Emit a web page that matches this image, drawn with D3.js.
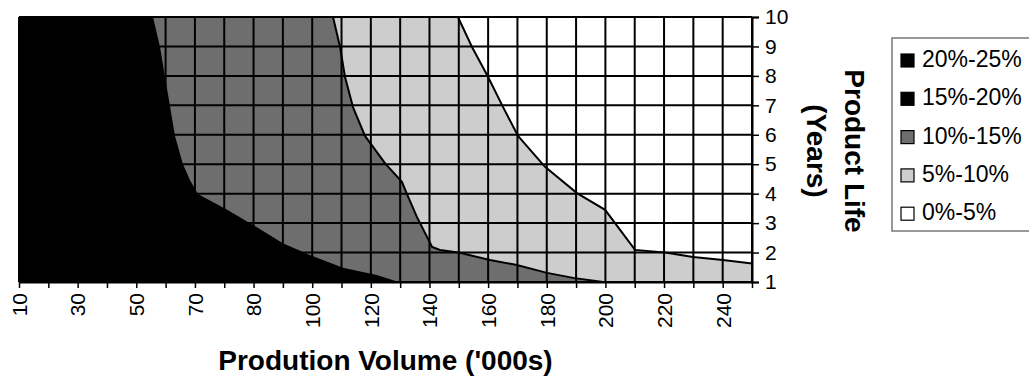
<!DOCTYPE html>
<html>
<head>
<meta charset="utf-8">
<script src="https://cdn.jsdelivr.net/npm/d3@7"></script>
<style>
  html, body { margin: 0; padding: 0; background: #fff; }
  svg { display: block; font-family: "Liberation Sans", Arial, sans-serif; }
</style>
</head>
<body>
<svg id="chart" width="1029" height="381"></svg>
<script>
// Production volume categories ('000s), one column per value
const volumes = [10, 20, 30, 40, 50, 60, 70, 75, 80, 90, 100, 110, 120, 130, 140,
                 150, 160, 170, 180, 190, 200, 210, 220, 230, 240, 250];
// Product life (years)
const lifeYears = [1, 2, 3, 4, 5, 6, 7, 8, 9, 10];

// Contour boundaries as [volume, life] points, top to bottom
const edge15 = [[55.7, 10], [58.1, 8.98], [59.8, 7.96], [61.5, 6.98], [63.2, 5.96],
                [65.9, 5.01], [68.3, 4.46], [70.5, 3.99], [75.5, 3.45], [79.9, 2.94],
                [90, 2.32], [99.2, 1.92], [110.5, 1.48], [122, 1.24], [129.5, 1]];
const edge10 = [[107.1, 10], [109.5, 8.98], [111.2, 7.96], [113.9, 6.94], [118, 5.96],
                [125, 5.01], [130.6, 4.4], [132.3, 3.99], [135.7, 3.21], [140.9, 2.19],
                [143.6, 2.09], [150.4, 1.99], [160.6, 1.75], [169.8, 1.58], [180.1, 1.31],
                [189, 1.14], [199.2, 1]];
const edge5  = [[149.7, 10], [154.5, 8.98], [160, 7.96], [165.1, 6.94], [170.2, 5.96],
                [179.4, 4.91], [190.3, 4.02], [199.9, 3.45], [210.1, 2.09], [221, 1.99],
                [229.9, 1.85], [240.1, 1.75], [250, 1.63]];

// Legend bands
const bandLabels = ["20%-25%", "15%-20%", "10%-15%", "5%-10%", "0%-5%"];
const bandColors = ["#000000", "#000000", "#6e6e6e", "#cdcdcd", "#ffffff"];

const svg = d3.select("#chart");
const plotL = 19, plotR = 752, plotT = 17, plotB = 282;

// Columns are evenly spaced categories; a piecewise scale maps volumes between them
const xBand = d3.scalePoint().domain(volumes).range([plotL, plotR]);
const x = d3.scaleLinear().domain(volumes).range(volumes.map(v => xBand(v)));
const y = d3.scaleLinear().domain([1, 10]).range([plotB, plotT]);

const vMin = volumes[0], vMax = volumes[volumes.length - 1];
const line = d3.line().x(d => x(d[0])).y(d => y(d[1]));

// Region polygons: everything left of a boundary, down to the axis
function regionLeftOf(edge) {
  const last = edge[edge.length - 1];
  const pts = [[vMin, 10]].concat(edge);
  if (last[1] > 1) pts.push([vMax, 1]);
  pts.push([vMin, 1]);
  return pts;
}

const plot = svg.append("g");
plot.append("rect")
  .attr("x", plotL).attr("y", plotT)
  .attr("width", plotR - plotL).attr("height", plotB - plotT)
  .attr("fill", "#ffffff");

plot.append("path").attr("d", line(regionLeftOf(edge5)) + "Z").attr("fill", bandColors[3]);
plot.append("path").attr("d", line(regionLeftOf(edge10)) + "Z").attr("fill", bandColors[2]);
plot.append("path").attr("d", line(regionLeftOf(edge15)) + "Z").attr("fill", bandColors[1]);

// Grid
const grid = svg.append("g").attr("stroke", "#000").attr("stroke-width", 2);
grid.selectAll("line.v").data(volumes).join("line")
  .attr("class", "v")
  .attr("x1", d => xBand(d)).attr("x2", d => xBand(d))
  .attr("y1", plotT).attr("y2", plotB);
grid.selectAll("line.h").data(lifeYears).join("line")
  .attr("class", "h")
  .attr("y1", d => y(d)).attr("y2", d => y(d))
  .attr("x1", plotL).attr("x2", plotR);

// Contour lines
[edge10, edge5].forEach(e => {
  svg.append("path").attr("d", line(e))
    .attr("fill", "none").attr("stroke", "#000").attr("stroke-width", 2);
});

// Bottom axis
const xAxis = svg.append("g")
  .attr("transform", `translate(0,${plotB})`)
  .call(d3.axisBottom(xBand).tickSize(6).tickSizeOuter(0)
    .tickFormat((d, i) => (i % 2 === 0 ? d : "")));
xAxis.select(".domain").attr("stroke", "#000").attr("stroke-width", 2);
xAxis.selectAll(".tick line").attr("stroke", "#000").attr("stroke-width", 1.5);
xAxis.selectAll(".tick text")
  .attr("font-size", 21)
  .attr("font-family", "Liberation Sans, Arial, sans-serif")
  .attr("fill", "#000")
  .attr("text-anchor", "end")
  .attr("transform", "translate(0,11) rotate(-90)")
  .attr("x", 0).attr("y", 0).attr("dy", "0.35em");

// Right axis
const yAxis = svg.append("g")
  .attr("transform", `translate(${plotR},0)`)
  .call(d3.axisRight(y).tickValues(lifeYears).tickSize(7).tickPadding(6).tickFormat(d3.format("d")));
yAxis.select(".domain").attr("stroke", "#000").attr("stroke-width", 2);
yAxis.selectAll(".tick line").attr("stroke", "#000").attr("stroke-width", 1.5);
yAxis.selectAll(".tick text")
  .attr("font-size", 21)
  .attr("font-family", "Liberation Sans, Arial, sans-serif")
  .attr("fill", "#000");

// Top border
svg.append("line").attr("x1", plotL).attr("x2", plotR).attr("y1", plotT).attr("y2", plotT)
  .attr("stroke", "#000").attr("stroke-width", 1.5);

// Axis titles
svg.append("text")
  .attr("x", (plotL + plotR) / 2).attr("y", 370)
  .attr("text-anchor", "middle")
  .attr("font-size", 28).attr("font-weight", "bold")
  .text("Prodution Volume ('000s)");

const yTitle = svg.append("g").attr("font-size", 28).attr("font-weight", "bold");
yTitle.append("text")
  .attr("transform", "translate(845,151) rotate(90)")
  .attr("text-anchor", "middle")
  .text("Product Life");
yTitle.append("text")
  .attr("transform", "translate(807,151) rotate(90)")
  .attr("text-anchor", "middle")
  .text("(Years)");

// Legend
const legend = svg.append("g");
legend.append("rect")
  .attr("x", 892).attr("y", 38).attr("width", 160).attr("height", 193)
  .attr("fill", "#fff").attr("stroke", "#777").attr("stroke-width", 1.5);
const rowY = i => 67 + i * 38.3;
legend.selectAll("rect.sw").data(bandLabels).join("rect")
  .attr("class", "sw")
  .attr("x", 901).attr("y", (d, i) => rowY(i) - 13)
  .attr("width", 13).attr("height", 13)
  .attr("fill", (d, i) => bandColors[i])
  .attr("stroke", "#000").attr("stroke-width", 1.2);
legend.selectAll("text.lbl").data(bandLabels).join("text")
  .attr("class", "lbl")
  .attr("x", 922).attr("y", (d, i) => rowY(i))
  .attr("font-size", 23)
  .text(d => d);
</script>
</body>
</html>
